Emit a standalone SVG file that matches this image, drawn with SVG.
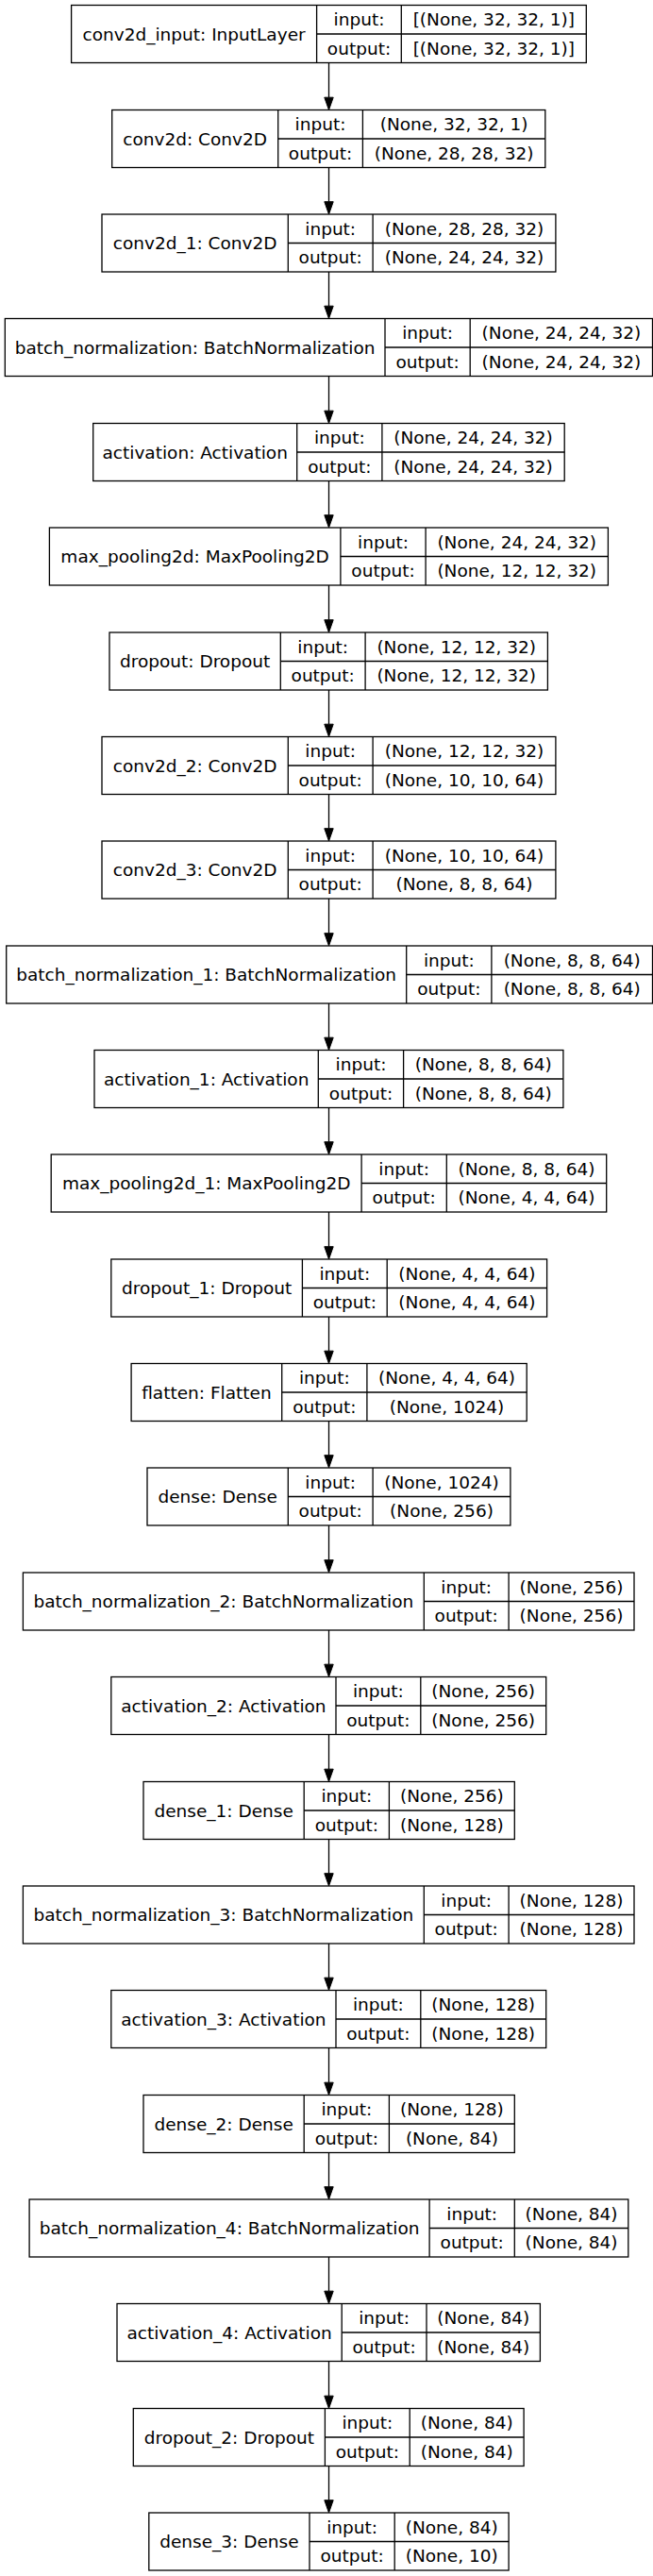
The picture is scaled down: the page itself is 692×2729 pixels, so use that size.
<svg xmlns="http://www.w3.org/2000/svg" width="692" height="2729" viewBox="0 0 692 2729">
<defs>
<style>
.box{fill:#fff;stroke:#000;stroke-width:1.3}
.ln{stroke:#000;stroke-width:1.3}
text{font-family:"DejaVu Sans",sans-serif;font-size:18.5px;fill:#000;text-anchor:middle}
.edge{stroke:#000;stroke-width:1.3;fill:none;marker-end:url(#ah)}
</style>
<marker id="ah" markerUnits="userSpaceOnUse" markerWidth="14" markerHeight="10" refX="0" refY="4.7" orient="auto" overflow="visible">
<path d="M0,0 L13.3,4.7 L0,9.4 z" fill="#000" stroke="#000" stroke-width="1"/>
</marker>
</defs>
<rect width="692" height="2729" fill="#fff"/>
<g id="edges">
<line class="edge" x1="348.5" y1="66.5" x2="348.5" y2="103.2"/>
<line class="edge" x1="348.5" y1="177.5" x2="348.5" y2="213.7"/>
<line class="edge" x1="348.5" y1="288" x2="348.5" y2="324.2"/>
<line class="edge" x1="348.5" y1="398.5" x2="348.5" y2="435.2"/>
<line class="edge" x1="348.5" y1="509.5" x2="348.5" y2="545.7"/>
<line class="edge" x1="348.5" y1="620" x2="348.5" y2="656.7"/>
<line class="edge" x1="348.5" y1="731" x2="348.5" y2="767.2"/>
<line class="edge" x1="348.5" y1="841.5" x2="348.5" y2="877.7"/>
<line class="edge" x1="348.5" y1="952" x2="348.5" y2="988.7"/>
<line class="edge" x1="348.5" y1="1063" x2="348.5" y2="1099.2"/>
<line class="edge" x1="348.5" y1="1173.5" x2="348.5" y2="1209.7"/>
<line class="edge" x1="348.5" y1="1284" x2="348.5" y2="1320.7"/>
<line class="edge" x1="348.5" y1="1395" x2="348.5" y2="1431.2"/>
<line class="edge" x1="348.5" y1="1505.5" x2="348.5" y2="1541.7"/>
<line class="edge" x1="348.5" y1="1616" x2="348.5" y2="1652.7"/>
<line class="edge" x1="348.5" y1="1727" x2="348.5" y2="1763.2"/>
<line class="edge" x1="348.5" y1="1837.5" x2="348.5" y2="1874.2"/>
<line class="edge" x1="348.5" y1="1948.5" x2="348.5" y2="1984.7"/>
<line class="edge" x1="348.5" y1="2059" x2="348.5" y2="2095.2"/>
<line class="edge" x1="348.5" y1="2169.5" x2="348.5" y2="2206.2"/>
<line class="edge" x1="348.5" y1="2280.5" x2="348.5" y2="2316.7"/>
<line class="edge" x1="348.5" y1="2391" x2="348.5" y2="2427.2"/>
<line class="edge" x1="348.5" y1="2501.5" x2="348.5" y2="2538.2"/>
<line class="edge" x1="348.5" y1="2612.5" x2="348.5" y2="2648.7"/>
</g>
<g id="n0"><rect class="box" x="75.6" y="5.5" width="545.7" height="61"/><line class="ln" x1="335.6" y1="5.5" x2="335.6" y2="66.5"/><line class="ln" x1="425.3" y1="5.5" x2="425.3" y2="66.5"/><line class="ln" x1="335.6" y1="36" x2="621.3" y2="36"/><text x="205.6" y="42.5">conv2d_input: InputLayer</text><text x="380.5" y="27.3">input:</text><text x="380.5" y="57.8">output:</text><text x="523.3" y="27.3">[(None, 32, 32, 1)]</text><text x="523.3" y="57.8">[(None, 32, 32, 1)]</text></g>
<g id="n1"><rect class="box" x="118.7" y="116.5" width="459.1" height="61"/><line class="ln" x1="294.7" y1="116.5" x2="294.7" y2="177.5"/><line class="ln" x1="384.4" y1="116.5" x2="384.4" y2="177.5"/><line class="ln" x1="294.7" y1="147" x2="577.8" y2="147"/><text x="206.7" y="153.5">conv2d: Conv2D</text><text x="339.5" y="138.3">input:</text><text x="339.5" y="168.8">output:</text><text x="481.1" y="138.3">(None, 32, 32, 1)</text><text x="481.1" y="168.8">(None, 28, 28, 32)</text></g>
<g id="n2"><rect class="box" x="108" y="227" width="480.9" height="61"/><line class="ln" x1="305.3" y1="227" x2="305.3" y2="288"/><line class="ln" x1="395.1" y1="227" x2="395.1" y2="288"/><line class="ln" x1="305.3" y1="257.5" x2="588.9" y2="257.5"/><text x="206.6" y="264">conv2d_1: Conv2D</text><text x="350.2" y="248.8">input:</text><text x="350.2" y="279.3">output:</text><text x="492" y="248.8">(None, 28, 28, 32)</text><text x="492" y="279.3">(None, 24, 24, 32)</text></g>
<g id="n3"><rect class="box" x="5.3" y="337.5" width="686.2" height="61"/><line class="ln" x1="408" y1="337.5" x2="408" y2="398.5"/><line class="ln" x1="498.2" y1="337.5" x2="498.2" y2="398.5"/><line class="ln" x1="408" y1="368" x2="691.5" y2="368"/><text x="206.6" y="374.5">batch_normalization: BatchNormalization</text><text x="453.1" y="359.3">input:</text><text x="453.1" y="389.8">output:</text><text x="594.9" y="359.3">(None, 24, 24, 32)</text><text x="594.9" y="389.8">(None, 24, 24, 32)</text></g>
<g id="n4"><rect class="box" x="98.7" y="448.5" width="499.5" height="61"/><line class="ln" x1="314.7" y1="448.5" x2="314.7" y2="509.5"/><line class="ln" x1="404.9" y1="448.5" x2="404.9" y2="509.5"/><line class="ln" x1="314.7" y1="479" x2="598.2" y2="479"/><text x="206.7" y="485.5">activation: Activation</text><text x="359.8" y="470.3">input:</text><text x="359.8" y="500.8">output:</text><text x="501.5" y="470.3">(None, 24, 24, 32)</text><text x="501.5" y="500.8">(None, 24, 24, 32)</text></g>
<g id="n5"><rect class="box" x="52.4" y="559" width="592" height="61"/><line class="ln" x1="360.9" y1="559" x2="360.9" y2="620"/><line class="ln" x1="451.1" y1="559" x2="451.1" y2="620"/><line class="ln" x1="360.9" y1="589.5" x2="644.4" y2="589.5"/><text x="206.6" y="596">max_pooling2d: MaxPooling2D</text><text x="406" y="580.8">input:</text><text x="406" y="611.3">output:</text><text x="547.7" y="580.8">(None, 24, 24, 32)</text><text x="547.7" y="611.3">(None, 12, 12, 32)</text></g>
<g id="n6"><rect class="box" x="116" y="670" width="464.4" height="61"/><line class="ln" x1="297.3" y1="670" x2="297.3" y2="731"/><line class="ln" x1="387.1" y1="670" x2="387.1" y2="731"/><line class="ln" x1="297.3" y1="700.5" x2="580.4" y2="700.5"/><text x="206.6" y="707">dropout: Dropout</text><text x="342.2" y="691.8">input:</text><text x="342.2" y="722.3">output:</text><text x="483.7" y="691.8">(None, 12, 12, 32)</text><text x="483.7" y="722.3">(None, 12, 12, 32)</text></g>
<g id="n7"><rect class="box" x="108" y="780.5" width="480.9" height="61"/><line class="ln" x1="305.3" y1="780.5" x2="305.3" y2="841.5"/><line class="ln" x1="395.1" y1="780.5" x2="395.1" y2="841.5"/><line class="ln" x1="305.3" y1="811" x2="588.9" y2="811"/><text x="206.6" y="817.5">conv2d_2: Conv2D</text><text x="350.2" y="802.3">input:</text><text x="350.2" y="832.8">output:</text><text x="492" y="802.3">(None, 12, 12, 32)</text><text x="492" y="832.8">(None, 10, 10, 64)</text></g>
<g id="n8"><rect class="box" x="108" y="891" width="480.9" height="61"/><line class="ln" x1="305.3" y1="891" x2="305.3" y2="952"/><line class="ln" x1="395.1" y1="891" x2="395.1" y2="952"/><line class="ln" x1="305.3" y1="921.5" x2="588.9" y2="921.5"/><text x="206.6" y="928">conv2d_3: Conv2D</text><text x="350.2" y="912.8">input:</text><text x="350.2" y="943.3">output:</text><text x="492" y="912.8">(None, 10, 10, 64)</text><text x="492" y="943.3">(None, 8, 8, 64)</text></g>
<g id="n9"><rect class="box" x="6.7" y="1002" width="684.8" height="61"/><line class="ln" x1="430.7" y1="1002" x2="430.7" y2="1063"/><line class="ln" x1="520.9" y1="1002" x2="520.9" y2="1063"/><line class="ln" x1="430.7" y1="1032.5" x2="691.5" y2="1032.5"/><text x="218.7" y="1039">batch_normalization_1: BatchNormalization</text><text x="475.8" y="1023.8">input:</text><text x="475.8" y="1054.3">output:</text><text x="606.2" y="1023.8">(None, 8, 8, 64)</text><text x="606.2" y="1054.3">(None, 8, 8, 64)</text></g>
<g id="n10"><rect class="box" x="100" y="1112.5" width="496.9" height="61"/><line class="ln" x1="337.3" y1="1112.5" x2="337.3" y2="1173.5"/><line class="ln" x1="427.6" y1="1112.5" x2="427.6" y2="1173.5"/><line class="ln" x1="337.3" y1="1143" x2="596.9" y2="1143"/><text x="218.7" y="1149.5">activation_1: Activation</text><text x="382.5" y="1134.3">input:</text><text x="382.5" y="1164.8">output:</text><text x="512.3" y="1134.3">(None, 8, 8, 64)</text><text x="512.3" y="1164.8">(None, 8, 8, 64)</text></g>
<g id="n11"><rect class="box" x="54.2" y="1223" width="588.5" height="61"/><line class="ln" x1="383.1" y1="1223" x2="383.1" y2="1284"/><line class="ln" x1="473.3" y1="1223" x2="473.3" y2="1284"/><line class="ln" x1="383.1" y1="1253.5" x2="642.7" y2="1253.5"/><text x="218.7" y="1260">max_pooling2d_1: MaxPooling2D</text><text x="428.2" y="1244.8">input:</text><text x="428.2" y="1275.3">output:</text><text x="558" y="1244.8">(None, 8, 8, 64)</text><text x="558" y="1275.3">(None, 4, 4, 64)</text></g>
<g id="n12"><rect class="box" x="117.8" y="1334" width="461.8" height="61"/><line class="ln" x1="320.4" y1="1334" x2="320.4" y2="1395"/><line class="ln" x1="410.2" y1="1334" x2="410.2" y2="1395"/><line class="ln" x1="320.4" y1="1364.5" x2="579.6" y2="1364.5"/><text x="219.1" y="1371">dropout_1: Dropout</text><text x="365.3" y="1355.8">input:</text><text x="365.3" y="1386.3">output:</text><text x="494.9" y="1355.8">(None, 4, 4, 64)</text><text x="494.9" y="1386.3">(None, 4, 4, 64)</text></g>
<g id="n13"><rect class="box" x="139.1" y="1444.5" width="419.1" height="61"/><line class="ln" x1="298.7" y1="1444.5" x2="298.7" y2="1505.5"/><line class="ln" x1="388.9" y1="1444.5" x2="388.9" y2="1505.5"/><line class="ln" x1="298.7" y1="1475" x2="558.2" y2="1475"/><text x="218.9" y="1481.5">flatten: Flatten</text><text x="343.8" y="1466.3">input:</text><text x="343.8" y="1496.8">output:</text><text x="473.5" y="1466.3">(None, 4, 4, 64)</text><text x="473.5" y="1496.8">(None, 1024)</text></g>
<g id="n14"><rect class="box" x="156" y="1555" width="384.9" height="61"/><line class="ln" x1="305.3" y1="1555" x2="305.3" y2="1616"/><line class="ln" x1="395.1" y1="1555" x2="395.1" y2="1616"/><line class="ln" x1="305.3" y1="1585.5" x2="540.9" y2="1585.5"/><text x="230.6" y="1592">dense: Dense</text><text x="350.2" y="1576.8">input:</text><text x="350.2" y="1607.3">output:</text><text x="468" y="1576.8">(None, 1024)</text><text x="468" y="1607.3">(None, 256)</text></g>
<g id="n15"><rect class="box" x="24.4" y="1666" width="647.6" height="61"/><line class="ln" x1="449.3" y1="1666" x2="449.3" y2="1727"/><line class="ln" x1="539.1" y1="1666" x2="539.1" y2="1727"/><line class="ln" x1="449.3" y1="1696.5" x2="672" y2="1696.5"/><text x="236.8" y="1703">batch_normalization_2: BatchNormalization</text><text x="494.2" y="1687.8">input:</text><text x="494.2" y="1718.3">output:</text><text x="605.5" y="1687.8">(None, 256)</text><text x="605.5" y="1718.3">(None, 256)</text></g>
<g id="n16"><rect class="box" x="117.8" y="1776.5" width="460.9" height="61"/><line class="ln" x1="356" y1="1776.5" x2="356" y2="1837.5"/><line class="ln" x1="445.8" y1="1776.5" x2="445.8" y2="1837.5"/><line class="ln" x1="356" y1="1807" x2="578.7" y2="1807"/><text x="236.9" y="1813.5">activation_2: Activation</text><text x="400.9" y="1798.3">input:</text><text x="400.9" y="1828.8">output:</text><text x="512.2" y="1798.3">(None, 256)</text><text x="512.2" y="1828.8">(None, 256)</text></g>
<g id="n17"><rect class="box" x="152" y="1887.5" width="393.3" height="61"/><line class="ln" x1="322.2" y1="1887.5" x2="322.2" y2="1948.5"/><line class="ln" x1="412.4" y1="1887.5" x2="412.4" y2="1948.5"/><line class="ln" x1="322.2" y1="1918" x2="545.3" y2="1918"/><text x="237.1" y="1924.5">dense_1: Dense</text><text x="367.3" y="1909.3">input:</text><text x="367.3" y="1939.8">output:</text><text x="478.9" y="1909.3">(None, 256)</text><text x="478.9" y="1939.8">(None, 128)</text></g>
<g id="n18"><rect class="box" x="24.4" y="1998" width="647.6" height="61"/><line class="ln" x1="449.3" y1="1998" x2="449.3" y2="2059"/><line class="ln" x1="539.1" y1="1998" x2="539.1" y2="2059"/><line class="ln" x1="449.3" y1="2028.5" x2="672" y2="2028.5"/><text x="236.8" y="2035">batch_normalization_3: BatchNormalization</text><text x="494.2" y="2019.8">input:</text><text x="494.2" y="2050.3">output:</text><text x="605.5" y="2019.8">(None, 128)</text><text x="605.5" y="2050.3">(None, 128)</text></g>
<g id="n19"><rect class="box" x="117.8" y="2108.5" width="460.9" height="61"/><line class="ln" x1="356" y1="2108.5" x2="356" y2="2169.5"/><line class="ln" x1="445.8" y1="2108.5" x2="445.8" y2="2169.5"/><line class="ln" x1="356" y1="2139" x2="578.7" y2="2139"/><text x="236.9" y="2145.5">activation_3: Activation</text><text x="400.9" y="2130.3">input:</text><text x="400.9" y="2160.8">output:</text><text x="512.2" y="2130.3">(None, 128)</text><text x="512.2" y="2160.8">(None, 128)</text></g>
<g id="n20"><rect class="box" x="152" y="2219.5" width="393.3" height="61"/><line class="ln" x1="322.2" y1="2219.5" x2="322.2" y2="2280.5"/><line class="ln" x1="412.4" y1="2219.5" x2="412.4" y2="2280.5"/><line class="ln" x1="322.2" y1="2250" x2="545.3" y2="2250"/><text x="237.1" y="2256.5">dense_2: Dense</text><text x="367.3" y="2241.3">input:</text><text x="367.3" y="2271.8">output:</text><text x="478.9" y="2241.3">(None, 128)</text><text x="478.9" y="2271.8">(None, 84)</text></g>
<g id="n21"><rect class="box" x="31.1" y="2330" width="634.7" height="61"/><line class="ln" x1="455.1" y1="2330" x2="455.1" y2="2391"/><line class="ln" x1="545.3" y1="2330" x2="545.3" y2="2391"/><line class="ln" x1="455.1" y1="2360.5" x2="665.8" y2="2360.5"/><text x="243.1" y="2367">batch_normalization_4: BatchNormalization</text><text x="500.2" y="2351.8">input:</text><text x="500.2" y="2382.3">output:</text><text x="605.6" y="2351.8">(None, 84)</text><text x="605.6" y="2382.3">(None, 84)</text></g>
<g id="n22"><rect class="box" x="124" y="2440.5" width="448.4" height="61"/><line class="ln" x1="362.2" y1="2440.5" x2="362.2" y2="2501.5"/><line class="ln" x1="452" y1="2440.5" x2="452" y2="2501.5"/><line class="ln" x1="362.2" y1="2471" x2="572.4" y2="2471"/><text x="243.1" y="2477.5">activation_4: Activation</text><text x="407.1" y="2462.3">input:</text><text x="407.1" y="2492.8">output:</text><text x="512.2" y="2462.3">(None, 84)</text><text x="512.2" y="2492.8">(None, 84)</text></g>
<g id="n23"><rect class="box" x="141.3" y="2551.5" width="413.8" height="61"/><line class="ln" x1="344.4" y1="2551.5" x2="344.4" y2="2612.5"/><line class="ln" x1="434.2" y1="2551.5" x2="434.2" y2="2612.5"/><line class="ln" x1="344.4" y1="2582" x2="555.1" y2="2582"/><text x="242.9" y="2588.5">dropout_2: Dropout</text><text x="389.3" y="2573.3">input:</text><text x="389.3" y="2603.8">output:</text><text x="494.7" y="2573.3">(None, 84)</text><text x="494.7" y="2603.8">(None, 84)</text></g>
<g id="n24"><rect class="box" x="157.8" y="2662" width="381.3" height="61"/><line class="ln" x1="328" y1="2662" x2="328" y2="2723"/><line class="ln" x1="418.2" y1="2662" x2="418.2" y2="2723"/><line class="ln" x1="328" y1="2692.5" x2="539.1" y2="2692.5"/><text x="242.9" y="2699">dense_3: Dense</text><text x="373.1" y="2683.8">input:</text><text x="373.1" y="2714.3">output:</text><text x="478.7" y="2683.8">(None, 84)</text><text x="478.7" y="2714.3">(None, 10)</text></g>
</svg>
